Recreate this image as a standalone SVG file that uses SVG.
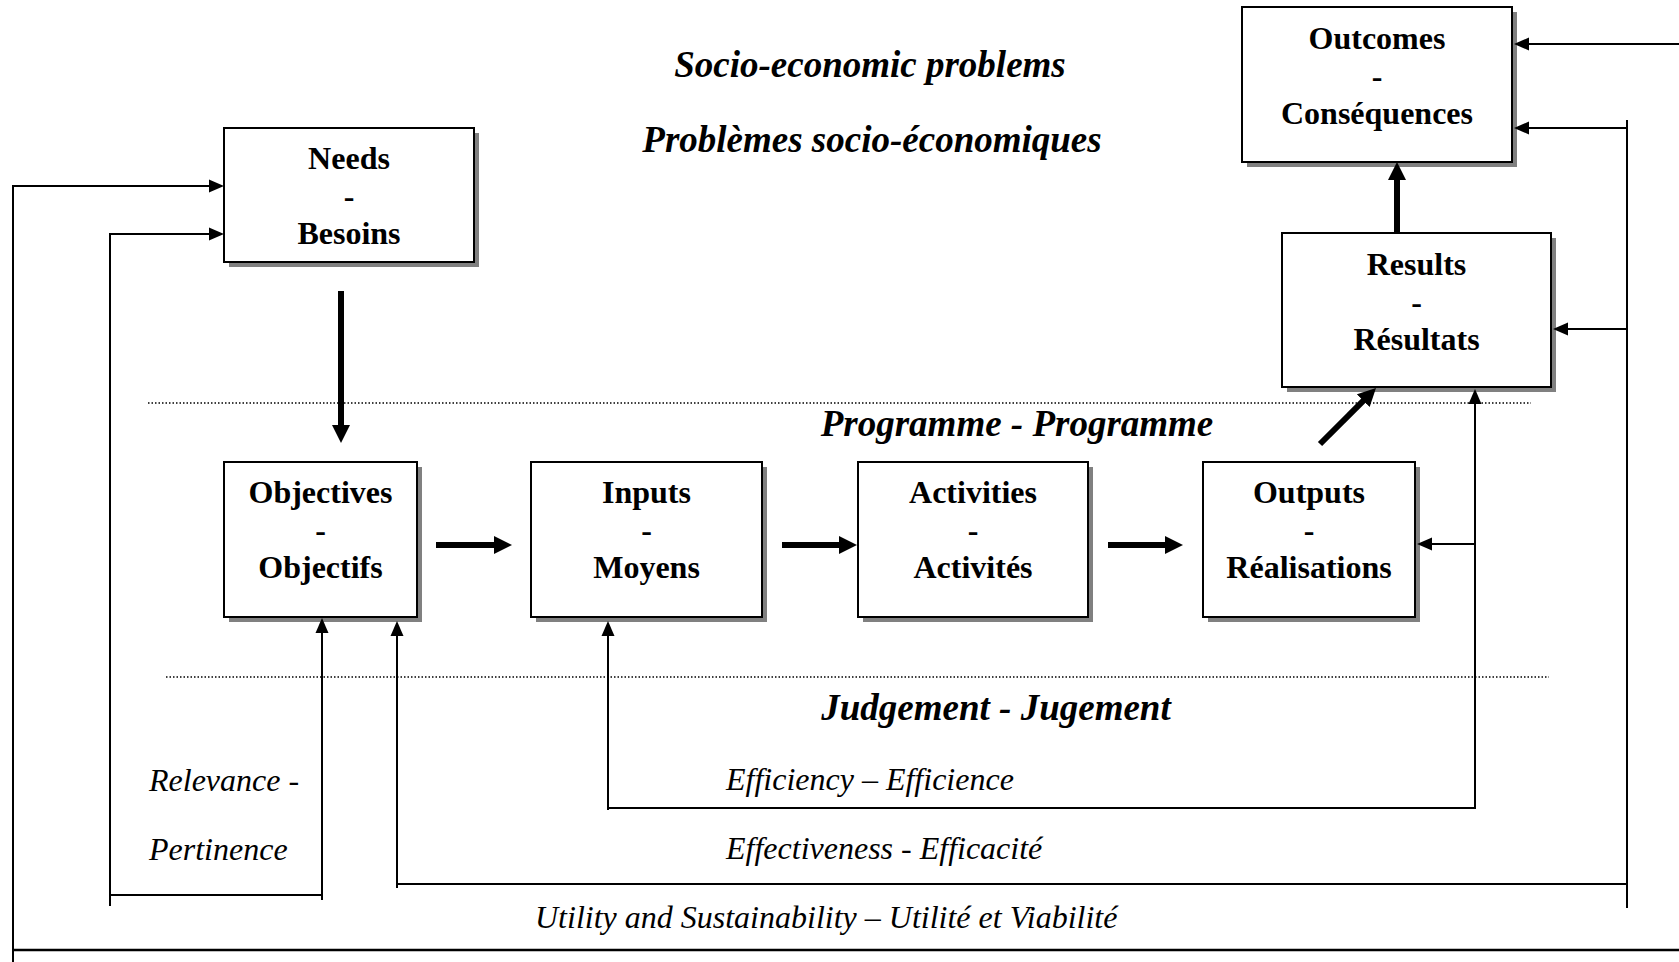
<svg xmlns="http://www.w3.org/2000/svg" width="1679" height="962" viewBox="0 0 1679 962">
<style>
.box{fill:#fff;stroke:#000;stroke-width:2}
.shadow{fill:#808080}
.lbl{font-family:"Liberation Serif","Times New Roman",serif;font-weight:bold;font-size:32px;text-anchor:middle;fill:#000}
.title{font-family:"Liberation Serif","Times New Roman",serif;font-weight:bold;font-style:italic;font-size:37px;text-anchor:middle;fill:#000}
.crit{font-family:"Liberation Serif","Times New Roman",serif;font-style:italic;font-size:32px;fill:#000}
.thin{fill:none;stroke:#000;stroke-width:2}
.thick{fill:none;stroke:#000;stroke-width:6}
.dot{fill:none;stroke:#000;stroke-width:1.3;stroke-dasharray:1.5 2}
</style>
<defs>
<marker id="ah" markerUnits="userSpaceOnUse" markerWidth="16" markerHeight="14" refX="2" refY="7" orient="auto">
<path d="M0,0.5 L15,7 L0,13.5 z" fill="#000"/>
</marker>
<marker id="ahb" markerUnits="userSpaceOnUse" markerWidth="19" markerHeight="19" refX="2" refY="9" orient="auto">
<path d="M0,0 L18,9 L0,18 z" fill="#000"/>
</marker>
</defs>
<rect width="1679" height="962" fill="#fff"/>

<g id="titles">
<text class="title" x="870" y="77">Socio-economic problems</text>
<text class="title" x="872" y="152">Problèmes socio-économiques</text>
<text class="title" x="1017" y="436">Programme - Programme</text>
<text class="title" x="996" y="720">Judgement - Jugement</text>
</g>

<g id="separators">
<line class="dot" x1="148" y1="403" x2="1531" y2="403"/>
<line class="dot" x1="166" y1="677" x2="1549" y2="677"/>
</g>

<g id="needs">
<rect class="shadow" x="229" y="133" width="250" height="134"/>
<rect class="box" x="224" y="128" width="250" height="134"/>
<text class="lbl" x="349" y="169">Needs</text>
<text class="lbl" x="349" y="206.5">-</text>
<text class="lbl" x="349" y="244">Besoins</text>
</g>

<g id="outcomes">
<rect class="shadow" x="1247" y="12" width="270" height="155"/>
<rect class="box" x="1242" y="7" width="270" height="155"/>
<text class="lbl" x="1377" y="49">Outcomes</text>
<text class="lbl" x="1377" y="86.5">-</text>
<text class="lbl" x="1377" y="124">Conséquences</text>
</g>

<g id="results">
<rect class="shadow" x="1287" y="238" width="269" height="154"/>
<rect class="box" x="1282" y="233" width="269" height="154"/>
<text class="lbl" x="1416.5" y="275">Results</text>
<text class="lbl" x="1416.5" y="312.5">-</text>
<text class="lbl" x="1416.5" y="350">Résultats</text>
</g>

<g id="objectives">
<rect class="shadow" x="229" y="467" width="193" height="155"/>
<rect class="box" x="224" y="462" width="193" height="155"/>
<text class="lbl" x="320.5" y="503">Objectives</text>
<text class="lbl" x="320.5" y="540.5">-</text>
<text class="lbl" x="320.5" y="578">Objectifs</text>
</g>

<g id="inputs">
<rect class="shadow" x="536" y="467" width="231" height="155"/>
<rect class="box" x="531" y="462" width="231" height="155"/>
<text class="lbl" x="646.5" y="503">Inputs</text>
<text class="lbl" x="646.5" y="540.5">-</text>
<text class="lbl" x="646.5" y="578">Moyens</text>
</g>

<g id="activities">
<rect class="shadow" x="863" y="467" width="230" height="155"/>
<rect class="box" x="858" y="462" width="230" height="155"/>
<text class="lbl" x="973" y="503">Activities</text>
<text class="lbl" x="973" y="540.5">-</text>
<text class="lbl" x="973" y="578">Activités</text>
</g>

<g id="outputs">
<rect class="shadow" x="1208" y="467" width="212" height="155"/>
<rect class="box" x="1203" y="462" width="212" height="155"/>
<text class="lbl" x="1309" y="503">Outputs</text>
<text class="lbl" x="1309" y="540.5">-</text>
<text class="lbl" x="1309" y="578">Réalisations</text>
</g>

<g id="criteria">
<text class="crit" x="149" y="791">Relevance -</text>
<text class="crit" x="149" y="860">Pertinence</text>
<text class="crit" x="726" y="790">Efficiency – Efficience</text>
<text class="crit" x="726" y="859">Effectiveness - Efficacité</text>
<text class="crit" x="535" y="928">Utility and Sustainability – Utilité et Viabilité</text>
</g>

<g id="connectors">
<line class="thick" x1="341" y1="291" x2="341" y2="427" marker-end="url(#ahb)"/>
<line class="thick" x1="436" y1="545" x2="496" y2="545" marker-end="url(#ahb)"/>
<line class="thick" x1="782" y1="545" x2="841" y2="545" marker-end="url(#ahb)"/>
<line class="thick" x1="1108" y1="545" x2="1167" y2="545" marker-end="url(#ahb)"/>
<line class="thick" x1="1320" y1="444" x2="1364.7" y2="399.3" marker-end="url(#ahb)"/>
<line class="thick" x1="1397" y1="233" x2="1397" y2="178" marker-end="url(#ahb)"/>

<path class="thin" d="M13,962 V186 H211" marker-end="url(#ah)"/>
<line class="thin" x1="13" y1="950" x2="1679" y2="950" style="stroke-width:2.5"/>
<line class="thin" x1="1679" y1="44" x2="1527" y2="44" marker-end="url(#ah)"/>

<path class="thin" d="M110,906 V234 H211" marker-end="url(#ah)"/>
<line class="thin" x1="110" y1="895" x2="322" y2="895"/>
<path class="thin" d="M322,900 V631" marker-end="url(#ah)"/>

<path class="thin" d="M397,888 V634" marker-end="url(#ah)"/>
<line class="thin" x1="397" y1="884" x2="1628" y2="884"/>
<line class="thin" x1="1627" y1="120" x2="1627" y2="908"/>
<line class="thin" x1="1627" y1="128" x2="1527" y2="128" marker-end="url(#ah)"/>
<line class="thin" x1="1628" y1="329" x2="1566" y2="329" marker-end="url(#ah)"/>

<path class="thin" d="M608,810 V634" marker-end="url(#ah)"/>
<line class="thin" x1="608" y1="808" x2="1475" y2="808"/>
<path class="thin" d="M1475,809 V402" marker-end="url(#ah)"/>
<line class="thin" x1="1475" y1="544" x2="1430" y2="544" marker-end="url(#ah)"/>
</g>
</svg>
